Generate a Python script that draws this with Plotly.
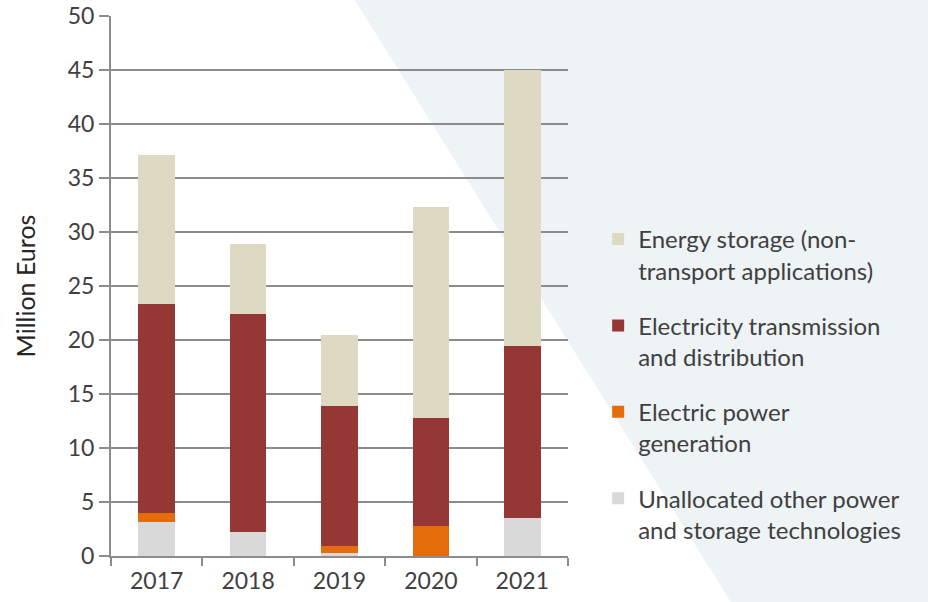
import plotly.graph_objects as go

years = ["2017", "2018", "2019", "2020", "2021"]
unallocated = [3.15, 2.2, 0.3, 0.0, 3.5]
power_generation = [0.83, 0.0, 0.6, 2.8, 0.0]
transmission = [19.4, 20.2, 12.96, 10.0, 15.9]
storage = [13.73, 6.5, 6.64, 19.54, 25.6]

series = [
    ("Unallocated other power<br>and storage technologies", unallocated, "#D9D9D9", 4),
    ("Electric power<br>generation", power_generation, "#E46C0A", 3),
    ("Electricity transmission<br>and distribution", transmission, "#953735", 2),
    ("Energy storage (non-<br>transport applications)", storage, "#DDD9C3", 1),
]

FONT = "Lato"
TXT = "#404040"

fig = go.Figure()
for i, (name, vals, col, rank) in enumerate(series):
    fig.add_trace(go.Bar(
        x=years, y=vals, name=name, marker=dict(color=col, line=dict(width=0)),
        legendgroup=f"g{rank}", legendrank=rank,
    ))

# decorative background diagonal panel (pixel -> paper conversion)
L, R, T, B = 111, 568, 15.7, 555.7
def px(x):
    return (x - L) / (R - L)
def py(y):
    return (B - y) / (B - T)
x0, x1 = 355, 731
path = (f"M{px(x0 - 0.625*10)},{py(-10)} L{px(940)},{py(-10)} L{px(940)},{py(612)} "
        f"L{px(x1 + 0.625*10)},{py(612)} Z")
fig.add_shape(type="path", path=path, xref="paper", yref="paper",
              fillcolor="#EEF3F6", line=dict(width=0), layer="below")

fig.update_layout(
    width=928, height=602,
    margin=dict(l=111, r=360, t=16, b=46, autoexpand=False),
    barmode="stack", bargap=0.6,
    paper_bgcolor="white", plot_bgcolor="rgba(0,0,0,0)",
    font=dict(family=FONT, color=TXT, size=23),
    legend=dict(
        x=1.066, xanchor="left", y=0.628, yanchor="top",
        traceorder="grouped", tracegroupgap=21, valign="top",
        font=dict(size=24, color=TXT, family=FONT), bgcolor="rgba(0,0,0,0)",
    ),
    xaxis=dict(
        showline=True, linecolor="#8C8C8C", linewidth=2,
        ticks="outside", ticklen=8, tickcolor="#8C8C8C", tickwidth=2,
        tickson="boundaries", showgrid=False, automargin=False,
        ticklabelstandoff=3,
        tickfont=dict(size=23, color=TXT, family=FONT),
    ),
    yaxis=dict(
        range=[0, 50], dtick=5, showgrid=True, gridcolor="#8C8C8C", gridwidth=2,
        showline=True, linecolor="#8C8C8C", linewidth=2, automargin=False,
        ticks="outside", ticklen=10, tickcolor="#8C8C8C", tickwidth=2,
        tickfont=dict(size=23, color=TXT, family=FONT),
        title=dict(text="Million Euros", font=dict(size=25, color="#262626", family=FONT), standoff=25),
        zeroline=False,
    ),
)

fig.write_html("out.html", config={"displayModeBar": False},
               post_script="document.body.style.margin='0';document.body.style.overflow='hidden';")
